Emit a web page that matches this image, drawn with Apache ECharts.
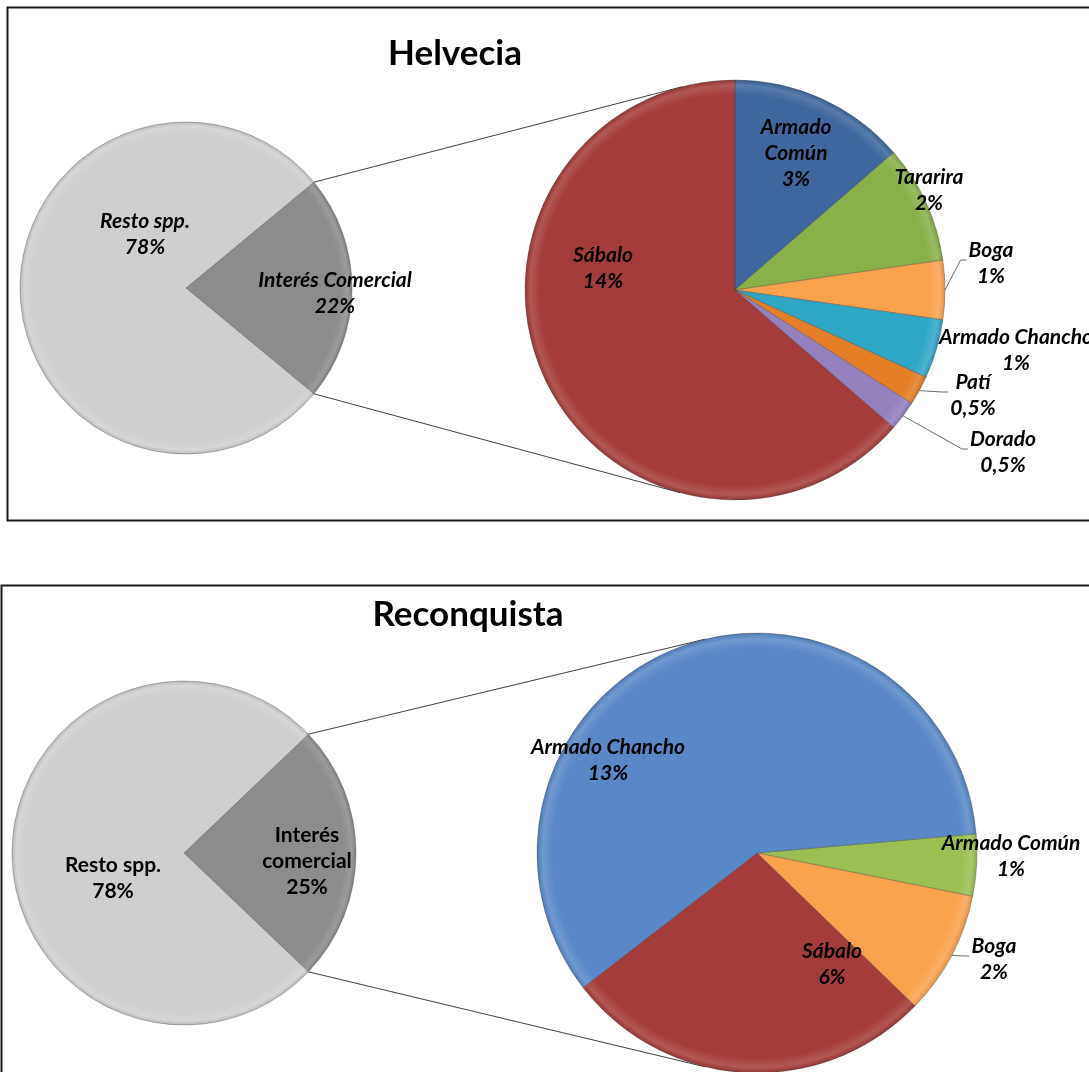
<!DOCTYPE html>
<html>
<head>
<meta charset="utf-8">
<title>Helvecia / Reconquista</title>
<script src="https://cdn.jsdelivr.net/npm/echarts@6/dist/echarts.min.js"></script>
<style>
  html, body { margin: 0; padding: 0; background: #ffffff; }
  #chart { width: 1089px; height: 1072px; }
</style>
</head>
<body>
<div id="chart"></div>
<script>
// ---- Data ----------------------------------------------------------------
const helveciaMainNames   = ['Interés Comercial', 'Resto spp.'];
const helveciaMainValues  = [22, 78];
const helveciaSubNames    = ['Armado Común', 'Tararira', 'Boga', 'Armado Chancho', 'Patí', 'Dorado', 'Sábalo'];
const helveciaSubValues   = [3, 2, 1, 1, 0.5, 0.5, 14];

const reconquistaMainNames  = ['Interés comercial', 'Resto spp.'];
const reconquistaMainValues = [25, 78];
const reconquistaSubNames   = ['Armado Común', 'Boga', 'Sábalo', 'Armado Chancho'];
const reconquistaSubValues  = [1, 2, 6, 13];

// Text shown in the labels (line breaks where the label wraps)
const helveciaMainLabels    = ['Interés Comercial', 'Resto spp.'];
const helveciaSubLabels     = ['Armado\nComún', 'Tararira', 'Boga', 'Armado Chancho', 'Patí', 'Dorado', 'Sábalo'];
const reconquistaMainLabels = ['Interés\ncomercial', 'Resto spp.'];
const reconquistaSubLabels  = ['Armado Común', 'Boga', 'Sábalo', 'Armado Chancho'];

// ---- Styling & layout ----------------------------------------------------
const FONT = 'Lato, "Open Sans", "DejaVu Sans", sans-serif';
const GREY_DARK = '#8C8C8C', GREY_LIGHT = '#CFCFCF';
const LABEL_SIZE = 21, LABEL_LH = 26;

const panels = [
  {
    title: 'Helvecia', titleX: 450, titleTop: 31,
    frame: { x: 7, y: 7, w: 1100, h: 513 },
    main: { cx: 186, cy: 288, r: 166 },
    sub:  { cx: 735, cy: 290, r: 210, startAngle: 90 },
    mainNames: helveciaMainNames, mainValues: helveciaMainValues, mainLabels: helveciaMainLabels,
    mainColors: [GREY_DARK, GREY_LIGHT],
    mainLabelOffsets: [[149, 5], [-41, -54]],
    mainItalic: true,
    subNames: helveciaSubNames, subValues: helveciaSubValues, subLabels: helveciaSubLabels,
    subColors: ['#3D679E', '#8AB04A', '#F9A24E', '#30A6C6', '#E37E27', '#9580BE', '#A33C3B'],
    subLabelOffsets: [[61, -137], [194, -100], [256, -27], [281, 60], [238, 105], [268, 162], [-132, -22]],
    subLeaders: ['Boga', 'Patí', 'Dorado']
  },
  {
    title: 'Reconquista', titleX: 463, titleTop: 592,
    frame: { x: 1, y: 585, w: 1100, h: 600 },
    main: { cx: 184, cy: 853, r: 172 },
    sub:  { cx: 757, cy: 853, r: 220, startAngle: 5 },
    mainNames: reconquistaMainNames, mainValues: reconquistaMainValues, mainLabels: reconquistaMainLabels,
    mainColors: [GREY_DARK, GREY_LIGHT],
    mainLabelOffsets: [[123, 8], [-71, 25]],
    mainItalic: false,
    subNames: reconquistaSubNames, subValues: reconquistaSubValues, subLabels: reconquistaSubLabels,
    subColors: ['#9BBF52', '#F9A24E', '#A33C3B', '#5888C8'],
    subLabelOffsets: [[254, 3], [237, 106], [75, 111], [-149, -93]],
    subLeaders: ['Boga']
  }
];

// ---- Helpers -------------------------------------------------------------
function pct(v) { return String(v).replace('.', ',') + '%'; }

function mix(hex, target, t) {
  const a = parseInt(hex.slice(1), 16), b = parseInt(target.slice(1), 16);
  const ch = (n, s) => (n >> s) & 255;
  const m = s => Math.round(ch(a, s) + (ch(b, s) - ch(a, s)) * t);
  return 'rgb(' + m(16) + ',' + m(8) + ',' + m(0) + ')';
}

// soft bevelled rim on every slice
function bevel(color, g) {
  return {
    type: 'radial', x: g.cx, y: g.cy, r: g.r, global: true,
    colorStops: [
      { offset: 0, color: color },
      { offset: 0.93, color: color },
      { offset: 0.975, color: mix(color, '#ffffff', 0.14) },
      { offset: 1, color: mix(color, '#000000', 0.1) }
    ]
  };
}

// mid-angle (degrees, counter-clockwise from 3 o'clock) of slice i
function midAngle(values, i, startAngle) {
  const total = values.reduce((s, v) => s + v, 0);
  let before = 0;
  for (let k = 0; k < i; k++) before += values[k];
  return startAngle - (before + values[i] / 2) / total * 360;
}

function labelStyle(italic) {
  return {
    fontFamily: FONT, fontSize: LABEL_SIZE, fontWeight: 'bold',
    fontStyle: italic ? 'italic' : 'normal', lineHeight: LABEL_LH, color: '#000000'
  };
}

function pieSeries(geom, names, values, labels, colors, offsets, italic, leaders, startAngle) {
  return {
    type: 'pie',
    center: [geom.cx, geom.cy],
    radius: geom.r,
    startAngle: startAngle,
    clockwise: true,
    avoidLabelOverlap: false,
    silent: true,
    animation: false,
    itemStyle: { borderColor: 'rgba(60,60,60,0.35)', borderWidth: 1 },
    label: Object.assign({
      show: true, position: 'outside',
      formatter: p => labels[p.dataIndex] + '\n' + pct(p.value)
    }, labelStyle(italic)),
    labelLine: { show: false, lineStyle: { color: '#6e6e6e', width: 1 } },
    labelLayout: function (p) {
      const i = p.dataIndex;
      const x = geom.cx + offsets[i][0];
      const y = geom.cy + offsets[i][1];
      const out = { x: x, y: y, align: 'center', verticalAlign: 'middle' };
      if (leaders.indexOf(names[i]) >= 0) {
        const a = midAngle(values, i, startAngle) * Math.PI / 180;
        const sx = geom.cx + geom.r * Math.cos(a);
        const sy = geom.cy - geom.r * Math.sin(a);
        const w = p.labelRect.width, h = p.labelRect.height;
        const ex = x - w / 2 - 2;
        const ey = y - h / 2 + LABEL_LH - 3;
        out.labelLinePoints = [[sx, sy], [ex - 6, ey], [ex, ey]];
      }
      return out;
    },
    data: values.map((v, i) => ({
      name: names[i],
      value: v,
      itemStyle: { color: bevel(colors[i], geom) },
      labelLine: { show: leaders.indexOf(names[i]) >= 0 }
    }))
  };
}

// tangent from the wedge tip on the main pie to the secondary pie
function connectors(pn) {
  const total = pn.mainValues.reduce((s, v) => s + v, 0);
  const half = pn.mainValues[0] / total * 180;            // half the wedge, degrees
  const m = pn.main, s = pn.sub;
  const lines = [];
  [1, -1].forEach(sign => {
    const t = sign * half * Math.PI / 180;
    const px = m.cx + m.r * Math.cos(t);
    const py = m.cy - m.r * Math.sin(t);
    const dx = px - s.cx, dy = py - s.cy;
    const d = Math.sqrt(dx * dx + dy * dy);
    const phi = Math.atan2(dy, dx);
    const a = Math.acos(s.r / d);
    const ang = sign > 0 ? phi + a : phi - a;
    lines.push({
      type: 'line', z: 1, silent: true,
      shape: { x1: px, y1: py, x2: s.cx + s.r * Math.cos(ang), y2: s.cy + s.r * Math.sin(ang) },
      style: { stroke: '#404040', lineWidth: 1 }
    });
  });
  return lines;
}

// ---- Build option --------------------------------------------------------
const series = [];
const titles = [];
const graphics = [];

panels.forEach(pn => {
  const total = pn.mainValues.reduce((s, v) => s + v, 0);
  const mainStart = pn.mainValues[0] / total * 180;   // wedge centred on 3 o'clock
  series.push(pieSeries(pn.main, pn.mainNames, pn.mainValues, pn.mainLabels, pn.mainColors,
                        pn.mainLabelOffsets, pn.mainItalic, [], mainStart));
  series.push(pieSeries(pn.sub, pn.subNames, pn.subValues, pn.subLabels, pn.subColors,
                        pn.subLabelOffsets, true, pn.subLeaders, pn.sub.startAngle));
  titles.push({
    text: pn.title, left: pn.titleX, top: pn.titleTop, textAlign: 'center',
    textStyle: { fontFamily: FONT, fontSize: 35, fontWeight: 'bold', color: '#000000' }
  });
  graphics.push({
    type: 'rect', z: 0, silent: true,
    shape: { x: pn.frame.x + 0.5, y: pn.frame.y + 0.5, width: pn.frame.w, height: pn.frame.h },
    style: { fill: 'none', stroke: '#1a1a1a', lineWidth: 2 }
  });
  connectors(pn).forEach(l => graphics.push(l));
});

const chart = echarts.init(document.getElementById('chart'), null, { renderer: 'canvas' });
chart.setOption({
  backgroundColor: '#ffffff',
  animation: false,
  title: titles,
  graphic: graphics,
  series: series
});
</script>
</body>
</html>
